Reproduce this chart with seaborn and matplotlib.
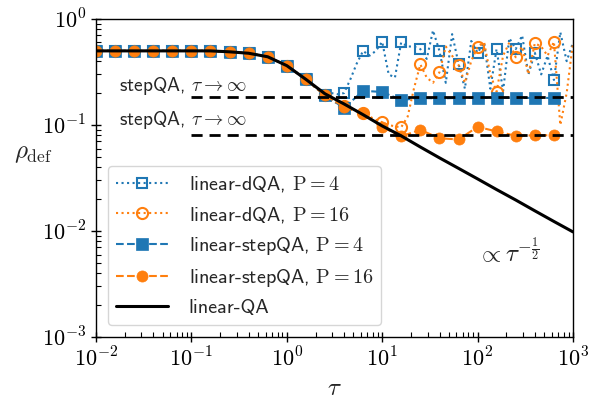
import numpy as np
import matplotlib.pyplot as plt
import seaborn as sns
from matplotlib.ticker import FuncFormatter, LogLocator

# ------------------------------------------------------------------
# data
# ------------------------------------------------------------------
# tau values where the markers sit (every 0.2 decade)
tau_mk = [0.01, 0.0158, 0.0251, 0.0398, 0.0631, 0.1, 0.158, 0.251, 0.398,
          0.631, 1.0, 1.58, 2.51, 3.98, 6.31, 10.0, 15.8, 25.1, 39.8, 63.1,
          100.0, 158.0, 251.0, 398.0, 631.0]

# linear-QA (solid black), one extra point at tau = 1000
tau_qa = tau_mk + [1000.0]
rho_qa = [0.5, 0.5, 0.5, 0.5, 0.5, 0.5, 0.5, 0.49, 0.475, 0.44, 0.363, 0.27,
          0.197, 0.158, 0.125, 0.098, 0.079, 0.062, 0.049, 0.039, 0.031,
          0.0246, 0.0196, 0.0155, 0.0123, 0.0098]

# stepQA markers
rho_step4 = [0.5, 0.5, 0.5, 0.5, 0.5, 0.5, 0.5, 0.49, 0.475, 0.44, 0.363, 0.27,
             0.19, 0.145, 0.21, 0.205, 0.172, 0.18, 0.178, 0.18, 0.18, 0.18,
             0.18, 0.18, 0.18]
rho_step16 = [0.5, 0.5, 0.5, 0.5, 0.5, 0.5, 0.5, 0.49, 0.475, 0.44, 0.363, 0.27,
              0.19, 0.149, 0.129, 0.096, 0.078, 0.090, 0.075, 0.073, 0.096,
              0.087, 0.079, 0.080, 0.080]

# dQA: coarse part (tau < 2.5) then a finer grid (3 points per marker step)
rho_dqa_head = [0.5, 0.5, 0.5, 0.5, 0.5, 0.5, 0.5, 0.49, 0.475, 0.44, 0.363, 0.27]
tau_fine = [2.51, 2.93, 3.41, 3.98, 4.64, 5.41, 6.31, 7.36, 8.58, 10.0, 11.7,
            13.6, 15.8, 18.5, 21.5, 25.1, 29.3, 34.1, 39.8, 46.4, 54.1, 63.1,
            73.6, 85.8, 100.0, 117.0, 136.0, 158.0, 185.0, 215.0, 251.0, 293.0,
            341.0, 398.0, 464.0, 541.0, 631.0, 736.0, 858.0, 1000.0]
rho_dqa4_fine = [0.19, 0.20, 0.195, 0.20, 0.27, 0.38, 0.50, 0.45, 0.50, 0.61,
                 0.30, 0.28, 0.60, 0.55, 0.55, 0.52, 0.42, 0.78, 0.50, 0.25,
                 0.72, 0.38, 0.22, 0.62, 0.48, 0.60, 0.22, 0.52, 0.21, 0.66,
                 0.52, 0.70, 0.30, 0.48, 0.30, 0.45, 0.266, 0.75, 0.40, 0.60]
rho_dqa16_fine = [0.19, 0.17, 0.16, 0.15, 0.14, 0.135, 0.129, 0.12, 0.112, 0.106,
                  0.10, 0.097, 0.095, 0.12, 0.22, 0.373, 0.28, 0.25, 0.314, 0.55,
                  0.45, 0.368, 0.25, 0.40, 0.55, 0.60, 0.30, 0.206, 0.45, 0.60,
                  0.435, 0.55, 0.30, 0.59, 0.55, 0.45, 0.61, 0.10, 0.20, 0.60]

# tau -> infinity limits of stepQA
step_inf = [0.182, 0.0805]

# ------------------------------------------------------------------
sns.set_style('ticks')
plt.rcParams['font.family'] = ['cmss10', 'DejaVu Sans']
plt.rcParams['mathtext.fontset'] = 'cm'
plt.rcParams['axes.unicode_minus'] = False
plt.rcParams['axes.edgecolor'] = 'black'
plt.rcParams['xtick.color'] = 'black'
plt.rcParams['ytick.color'] = 'black'

fig = plt.figure(figsize=(5.98, 4.03), dpi=100)
ax = fig.add_axes([0.1605, 0.1638, 0.7977, 0.7891])
ax.set_xscale('log')
ax.set_yscale('log')

blue, orange = '#1f77b4', '#ff7f0e'
tau_dqa = tau_mk[:12] + tau_fine
mk_every = list(range(12)) + list(range(12, 49, 3))

sns.lineplot(x=tau_dqa, y=rho_dqa_head + rho_dqa4_fine, ax=ax, color=blue,
             linestyle=':', lw=1.5, marker='s', ms=7, mfc='none', mec=blue,
             mew=1.5, markevery=mk_every, label=r'linear-dQA, $\mathrm{P}=4$')
sns.lineplot(x=tau_dqa, y=rho_dqa_head + rho_dqa16_fine, ax=ax, color=orange,
             linestyle=':', lw=1.5, marker='o', ms=8, mfc='none', mec=orange,
             mew=1.5, markevery=mk_every, label=r'linear-dQA, $\mathrm{P}=16$')
sns.lineplot(x=tau_mk, y=rho_step4, ax=ax, color=blue, linestyle='--', lw=1.5,
             marker='s', ms=8, mec=blue, mew=0.5,
             label=r'linear-stepQA, $\mathrm{P}=4$')
sns.lineplot(x=tau_mk, y=rho_step16, ax=ax, color=orange, linestyle='--', lw=1.5,
             marker='o', ms=8, mec=orange, mew=0.5,
             label=r'linear-stepQA, $\mathrm{P}=16$')
sns.lineplot(x=tau_qa, y=rho_qa, ax=ax, color='black', lw=2.2, label='linear-QA')

for v in step_inf:
    ax.plot([0.1, 1000], [v, v], color='black', ls=(0, (4, 2.5)), lw=2, zorder=5)

ax.text(0.0174, 0.235, r'stepQA, $\tau\rightarrow\infty$', fontsize=14,
        ha='left', va='center')
ax.text(0.0174, 0.111, r'stepQA, $\tau\rightarrow\infty$', fontsize=14,
        ha='left', va='center')
ax.text(98, 0.0064, r'$\propto \tau^{-\frac{1}{2}}$', fontsize=18,
        ha='left', va='center')

ax.set_xlim(1e-2, 1e3)
ax.set_ylim(1e-3, 1e0)
ax.set_xticks([1e-2, 1e-1, 1e0, 1e1, 1e2, 1e3])
ax.set_yticks([1e-3, 1e-2, 1e-1, 1e0])
minor = LogLocator(base=10, subs=np.arange(2, 10))
ax.xaxis.set_minor_locator(minor)
ax.yaxis.set_minor_locator(LogLocator(base=10, subs=np.arange(2, 10)))
decade = FuncFormatter(lambda v, pos: r'$10^{%d}$' % round(np.log10(v)))
ax.xaxis.set_major_formatter(decade)
ax.yaxis.set_major_formatter(decade)
ax.set_xlabel(r'$\tau$', fontsize=18)
ax.set_ylabel(r'$\rho_{\rm def}$', fontsize=18, rotation=0)
ax.yaxis.set_label_coords(-0.132, 0.54)
ax.xaxis.set_label_coords(0.5, -0.125)
ax.tick_params(which='major', direction='inout', length=7, width=1, labelsize=16)
ax.tick_params(which='minor', direction='in', length=3.5, width=0.8)
for s in ax.spines.values():
    s.set_linewidth(1.0)

ax.legend(loc='lower left', fontsize=14.5, handlelength=2.6, handletextpad=1.0,
          framealpha=0.8, borderaxespad=0.6, labelspacing=0.5)

fig.savefig('out.png', dpi=100)
